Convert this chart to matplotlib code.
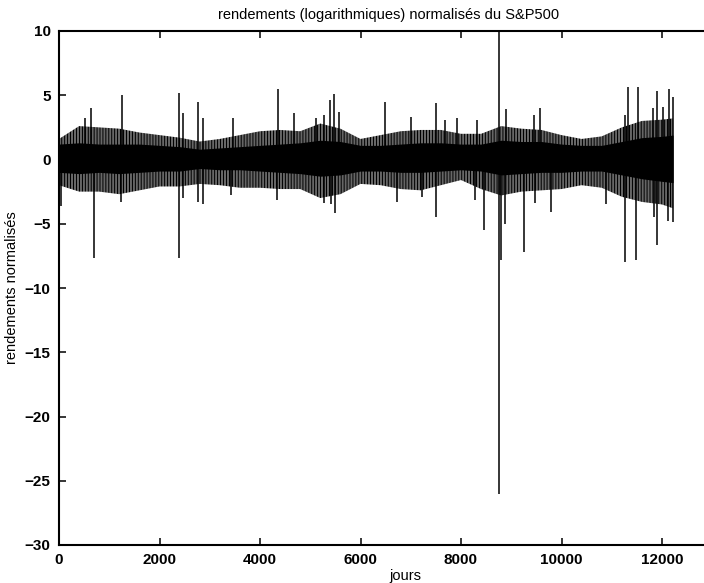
import numpy as np
import matplotlib.pyplot as plt

plt.rcParams['font.family'] = ['Liberation Sans', 'DejaVu Sans']
plt.rcParams['hatch.color'] = 'black'
plt.rcParams['hatch.linewidth'] = 0.8

# envelope of the dense band, read every 400 days
env_days = [0, 400, 800, 1200, 1600, 2000, 2400, 2800, 3200, 3600, 4000,
            4400, 4800, 5200, 5600, 6000, 6400, 6800, 7200, 7600, 8000,
            8400, 8800, 9200, 9600, 10000, 10400, 10800, 11200, 11600,
            12000, 12220]
core_hi = [1.2, 1.3, 1.2, 1.2, 1.2, 1.1, 1.0, 0.8, 0.9, 1.0, 1.1,
           1.2, 1.3, 1.5, 1.4, 1.1, 1.1, 1.2, 1.3, 1.3, 1.2,
           1.2, 1.5, 1.4, 1.4, 1.2, 1.1, 1.1, 1.4, 1.7, 1.8, 1.9]
core_lo = [-1.0, -1.1, -1.0, -1.1, -1.0, -0.9, -0.9, -0.7, -0.8, -0.8, -0.9,
           -1.0, -1.1, -1.3, -1.2, -0.9, -0.9, -1.0, -1.0, -0.9, -0.8,
           -0.9, -1.2, -1.1, -1.0, -1.0, -0.9, -0.9, -1.2, -1.5, -1.7, -1.8]
fringe_hi = [1.6, 2.6, 2.5, 2.4, 2.1, 1.9, 1.7, 1.4, 1.6, 1.9, 2.2,
             2.3, 2.2, 2.8, 2.4, 1.6, 1.9, 2.2, 2.3, 2.3, 2.0,
             2.0, 2.6, 2.4, 2.3, 1.9, 1.6, 1.8, 2.5, 3.0, 3.1, 3.2]
fringe_lo = [-2.0, -2.5, -2.5, -2.7, -2.4, -2.1, -2.1, -1.9, -2.0, -2.2, -2.2,
             -2.3, -2.3, -3.0, -2.7, -1.9, -2.0, -2.3, -2.4, -2.0, -1.6,
             -2.3, -2.8, -2.5, -2.4, -2.3, -2.0, -2.2, -2.9, -3.3, -3.5, -3.8]

# isolated spikes (day, value)
spike_days = [517, 631, 1248, 2394, 2474, 2760, 2860, 3457, 4352, 4677,
              5114, 5280, 5400, 5467, 5570, 6494, 6999, 7497, 7675, 7927,
              8318, 8762, 8900, 9459, 9580, 11264, 11316, 11515, 11815,
              11900, 12020, 12133, 12215,
              40, 703, 1234, 2388, 2474, 2773, 2860, 3430, 4332, 5280,
              5420, 5486, 6726, 7220, 7497, 8280, 8458, 8765, 8802, 8880,
              9254, 9480, 9790, 10885, 11264, 11490, 11840, 11900, 12115,
              12215]
spike_vals = [3.2, 4.0, 5.0, 5.15, 3.6, 4.45, 3.25, 3.2, 5.5, 3.6,
              3.2, 3.5, 4.6, 5.07, 3.7, 4.45, 3.3, 4.37, 3.07, 3.2,
              3.07, 10.0, 3.9, 3.5, 4.0, 3.5, 5.67, 5.67, 4.0,
              5.3, 4.1, 5.5, 4.9,
              -3.6, -7.7, -3.3, -7.7, -3.0, -3.3, -3.5, -2.8, -3.15, -3.4,
              -3.5, -4.2, -3.3, -2.9, -4.5, -3.15, -5.5, -26.0, -7.8, -5.0,
              -7.2, -3.4, -4.1, -3.5, -8.0, -7.8, -4.45, -6.65, -4.8,
              -4.9]

fig = plt.figure(figsize=(7.04, 5.83), dpi=100)
ax = fig.add_axes([59 / 704, 38 / 583, 703.5 / 704, 514 / 583])

ax.fill_between(env_days, fringe_lo, fringe_hi, facecolor='none',
                edgecolor='black', hatch='|' * 11, linewidth=0)
ax.fill_between(env_days, core_lo, core_hi, color='black', linewidth=0)
ax.vlines(spike_days, 0, spike_vals, colors='black', linewidth=1.1)

ax.set_xlim(0, 14000)
ax.set_ylim(-30, 10)
ax.set_xticks(np.arange(0, 12001, 2000))
ax.set_yticks(np.arange(-30, 11, 5))
ax.tick_params(direction='in', length=5, width=1.1, top=True, right=True,
               labelsize=11, pad=6)
for lab in ax.get_xticklabels() + ax.get_yticklabels():
    lab.set_fontweight('bold')
for sp in ax.spines.values():
    sp.set_linewidth(1.5)

ax.set_title('rendements (logarithmiques) normalisés du S&P500',
             fontsize=10.5, x=0.468, pad=9)
ax.set_xlabel('jours', fontsize=10.5, x=0.492, labelpad=1)
ax.set_ylabel('rendements normalisés', fontsize=10.5, labelpad=4)

fig.savefig('out.png', dpi=100)
